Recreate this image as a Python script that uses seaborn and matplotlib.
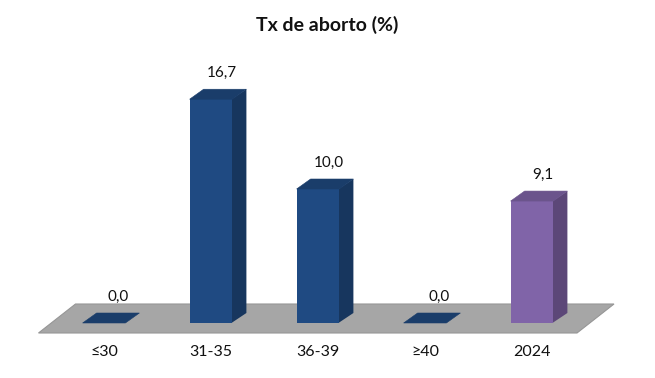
import matplotlib
matplotlib.use("Agg")
import matplotlib.pyplot as plt
from matplotlib.patches import Polygon
import seaborn as sns
import pandas as pd

categories = ["≤30", "31-35", "36-39", "≥40", "2024"]
values = [0.0, 16.7, 10.0, 0.0, 9.1]
groups = ["idade", "idade", "idade", "idade", "total"]
value_labels = ["0,0", "16,7", "10,0", "0,0", "9,1"]

front_colors = {"idade": "#1F4A82", "total": "#8064A8"}
side_colors = {"idade": "#17365E", "total": "#5C4778"}
top_colors = {"idade": "#1A3D6A", "total": "#6B548C"}

sns.set_theme(style="white")
plt.rcParams["font.family"] = ["Lato", "DejaVu Sans"]

df = pd.DataFrame({"faixa": categories, "taxa": values, "grupo": groups})

fig = plt.figure(figsize=(6.55, 3.78), dpi=100)
ax = fig.add_axes([50.5 / 655, 55 / 378, 535 / 655, 268 / 378])

sns.barplot(data=df, x="faixa", y="taxa", hue="grupo", palette=front_colors,
            width=0.4, dodge=False, legend=False, ax=ax, zorder=3,
            saturation=1, linewidth=0)

ax.set_xlim(-0.5, 4.5)
ax.set_ylim(0, 20)

# pixel -> data units
px_x = 1 / 107
px_y = 1 / 13.4
# bar depth
ddx, ddy = 14 * px_x, 10 * px_y

# grey floor under the bars
fl_x0, fl_x1 = -0.5 - 12 * px_x, 4.5 - 8.5 * px_x
fl_y0 = -10 * px_y
fdx, fdy = 37 * px_x, 29 * px_y
floor = Polygon([(fl_x0, fl_y0), (fl_x1, fl_y0), (fl_x1 + fdx, fl_y0 + fdy),
                 (fl_x0 + fdx, fl_y0 + fdy)], closed=True,
                facecolor="#A6A6A6", edgecolor="#969696", lw=0.8,
                zorder=1, clip_on=False)
ax.add_patch(floor)

bars = [p for p in ax.patches if p is not floor]
bars = sorted(bars, key=lambda p: p.get_x())
for bar, grp, lab in zip(bars, groups, value_labels):
    x0 = bar.get_x()
    w = bar.get_width()
    h = bar.get_height()
    x1 = x0 + w
    # side starts a touch inside the front face so no seam shows
    xs = x1 - 1 * px_x
    side = Polygon([(xs, 0), (x1 + ddx, ddy), (x1 + ddx, h + ddy), (xs, h)],
                   closed=True, facecolor=side_colors[grp], lw=0, zorder=2,
                   clip_on=False)
    top = Polygon([(x0, h), (x1, h), (x1 + ddx, h + ddy), (x0 + ddx, h + ddy)],
                  closed=True, facecolor=top_colors[grp],
                  edgecolor=top_colors[grp], lw=0.4, zorder=4,
                  clip_on=False)
    ax.add_patch(side)
    ax.add_patch(top)
    dx = 11 if h > 0 else 14
    ax.annotate(lab, (x0 + w / 2, h), xytext=(dx * 0.72, 19),
                textcoords="offset points", ha="center", va="center",
                fontsize=11, color="#111111")

ax.set_xticks(range(len(categories)))
ax.set_xticklabels(categories, fontsize=11.5, color="#111111")
ax.tick_params(axis="x", length=0, pad=16)
ax.set_yticks([])
ax.set_xlabel("")
ax.set_ylabel("")
for s in ax.spines.values():
    s.set_visible(False)

fig.text(0.5, 1 - 25 / 378, "Tx de aborto (%)", ha="center", va="center",
         fontsize=14, fontweight="bold", color="#111111")

fig.savefig("out.png", dpi=100, facecolor="white")
